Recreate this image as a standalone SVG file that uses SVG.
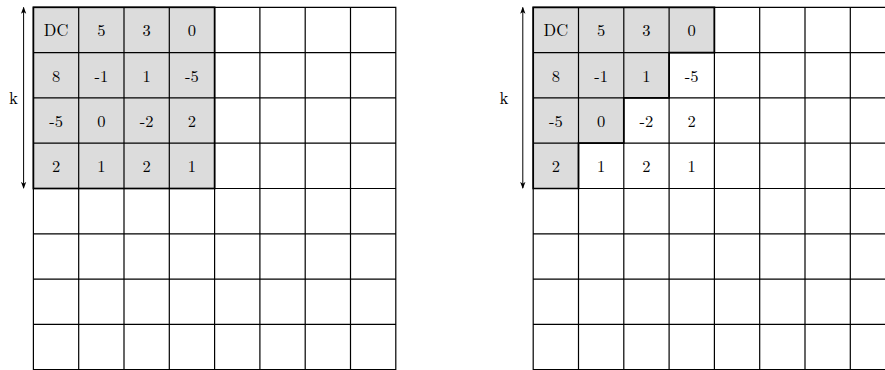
<svg xmlns="http://www.w3.org/2000/svg" width="885" height="370" viewBox="0 0 885 370">
<style>
.bg{fill:#ffffff}
.sh{fill:#dcdcdc;stroke:none}
.gl{stroke:#000;stroke-width:1.2;fill:none}
.th{stroke:#000;stroke-width:1.7;fill:none;stroke-linejoin:miter}
.t{font-family:"Latin Modern Roman","Liberation Serif",serif;font-size:16.5px;text-anchor:middle;fill:#000}
.ar{stroke:#000;stroke-width:1;fill:none}
</style>
<defs>
<marker id="ah" viewBox="0 0 8 8" refX="7" refY="4" markerWidth="7" markerHeight="7" orient="auto-start-reverse" markerUnits="userSpaceOnUse">
<path d="M0,1 L8,4 L0,7 L2,4 Z" fill="#000"/>
</marker>
<g id="grid">
<path class="gl" d="M0,0H362.4V362.4H0Z M45.3,0V362.4 M90.6,0V362.4 M135.9,0V362.4 M181.2,0V362.4 M226.5,0V362.4 M271.8,0V362.4 M317.1,0V362.4 M0,45.3H362.4 M0,90.6H362.4 M0,135.9H362.4 M0,181.2H362.4 M0,226.5H362.4 M0,271.8H362.4 M0,317.1H362.4"/>
</g>
<g id="nums">
<text class="t" x="22.65" y="29">DC</text><text class="t" x="67.95" y="29">5</text><text class="t" x="113.25" y="29">3</text><text class="t" x="158.55" y="29">0</text>
<text class="t" x="22.65" y="74.3">8</text><text class="t" x="67.95" y="74.3">-1</text><text class="t" x="113.25" y="74.3">1</text><text class="t" x="158.55" y="74.3">-5</text>
<text class="t" x="22.65" y="119.6">-5</text><text class="t" x="67.95" y="119.6">0</text><text class="t" x="113.25" y="119.6">-2</text><text class="t" x="158.55" y="119.6">2</text>
<text class="t" x="22.65" y="164.9">2</text><text class="t" x="67.95" y="164.9">1</text><text class="t" x="113.25" y="164.9">2</text><text class="t" x="158.55" y="164.9">1</text>
</g>
</defs>
<rect class="bg" x="0" y="0" width="885" height="370"/>
<g id="left-block" transform="translate(33.4,7.3)">
<rect class="sh" x="0" y="0" width="181.2" height="181.2"/>
<use href="#grid"/>
<rect class="th" x="0" y="0" width="181.2" height="181.2"/>
<use href="#nums"/>
</g>
<g id="right-block" transform="translate(533.2,7.3)">
<path class="sh" d="M0,0H181.2V45.3H135.9V90.6H90.6V135.9H45.3V181.2H0Z"/>
<use href="#grid"/>
<path class="th" d="M0,0H181.2V45.3H135.9V90.6H90.6V135.9H45.3V181.2H0Z"/>
<use href="#nums"/>
</g>
<g id="connectors">
<line class="ar" x1="23.6" y1="96" x2="23.6" y2="7.5" marker-end="url(#ah)"/>
<line class="ar" x1="23.6" y1="96" x2="23.6" y2="188" marker-end="url(#ah)"/>
<line class="ar" x1="522.8" y1="96" x2="522.8" y2="7.5" marker-end="url(#ah)"/>
<line class="ar" x1="522.8" y1="96" x2="522.8" y2="188" marker-end="url(#ah)"/>
</g>
<text class="t" x="13.5" y="104" style="font-size:17px">k</text>
<text class="t" x="504" y="104" style="font-size:17px">k</text>
</svg>
